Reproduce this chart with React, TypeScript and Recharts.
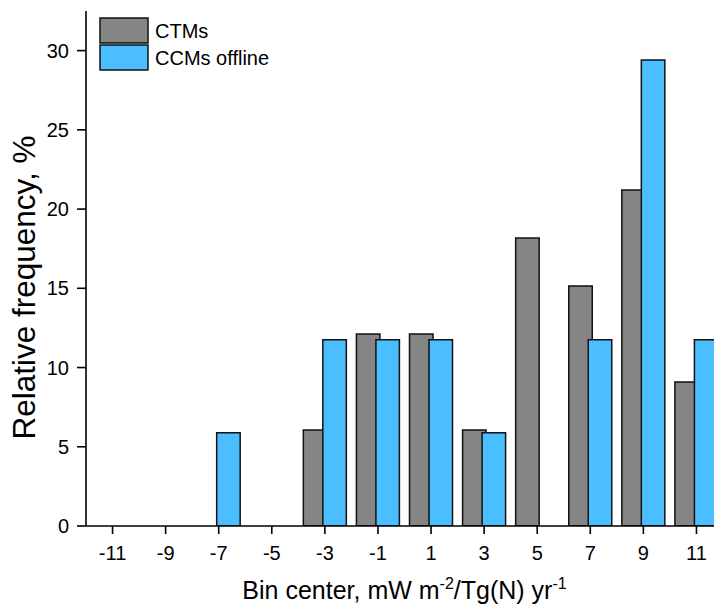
import React from 'react';
import { BarChart, Bar, XAxis, YAxis, Legend } from 'recharts';

const binCenters = [-11, -9, -7, -5, -3, -1, 1, 3, 5, 7, 9, 11];
const ctmsFreq = [0, 0, 0, 0, 6.06, 12.12, 12.12, 6.06, 18.18, 15.15, 21.21, 9.09];
const ccmsFreq = [0, 0, 5.88, 0, 11.76, 11.76, 11.76, 5.88, 0, 11.76, 29.41, 11.76];
const seriesNames = ['CTMs', 'CCMs offline'];
const yMajorTicks = [0, 5, 10, 15, 20, 25, 30];
const yMinorTicks = [2.5, 7.5, 12.5, 17.5, 22.5, 27.5, 32.5];
const xMinorTicks = [-12, -10, -8, -6, -4, -2, 0, 2, 4, 6, 8, 10, 12];
const xDomain = [-12, 12];
const yDomain = [0, 32.5];
const yLabel = 'Relative frequency, %';

const data = binCenters.map((b, i) => ({ bin: b, ctms: ctmsFreq[i], ccms: ccmsFreq[i] }));

const FONT = '"Liberation Sans", Arial, sans-serif';
const AXIS = { stroke: '#000', strokeWidth: 1.6 };

const renderLegend = (props: any) => {
  const payload = [...(props.payload || [])].sort(
    (a: any, b: any) => seriesNames.indexOf(a.value) - seriesNames.indexOf(b.value)
  );
  return (
    <svg width={260} height={56} style={{ display: 'block' }}>
      {payload.map((p: any, i: number) => (
        <g key={i}>
          <rect x={1} y={1 + i * 27} width={48} height={25} fill={p.color} stroke="#111" strokeWidth={1.5} />
          <text x={56} y={1 + i * 27 + 19.5} fontSize={20} fontFamily={FONT} fill="#000">
            {p.value}
          </text>
        </g>
      ))}
    </svg>
  );
};

const XLabel = (props: any) => {
  const vb = props.viewBox || {};
  const cx = vb.x + vb.width / 2;
  return (
    <text x={cx} y={599} textAnchor="middle" fontSize={25} fontFamily={FONT} fill="#000">
      Bin center, mW m
      <tspan dy={-10} fontSize={16}>-2</tspan>
      <tspan dy={10}>/Tg(N) yr</tspan>
      <tspan dy={-10} fontSize={16}>-1</tspan>
    </text>
  );
};

const YLabel = (props: any) => {
  const vb = props.viewBox || {};
  const cy = vb.y + vb.height / 2 + 19;
  const x = 35;
  return (
    <text x={x} y={cy} textAnchor="middle" fontSize={31.5} fontFamily={FONT} fill="#000" transform={`rotate(-90 ${x} ${cy})`}>
      {yLabel}
    </text>
  );
};

export default function App() {
  return (
    <div style={{ position: 'absolute', left: 0, top: 0, width: 714, height: 610, overflow: 'hidden', background: '#fff' }}>
      <BarChart
        width={730}
        height={610}
        data={data}
        margin={{ top: 11, right: 7, bottom: 0, left: 0 }}
        barSize={23.5}
        barGap={-4}
      >
        <XAxis
          xAxisId="minor"
          dataKey="bin"
          type="number"
          domain={xDomain}
          ticks={xMinorTicks}
          allowDataOverflow
          tick={false}
          tickSize={4}
          axisLine={false}
          tickLine={AXIS}
          height={0}
        />
        <XAxis
          xAxisId="main"
          dataKey="bin"
          type="category"
          height={84}
          tickSize={8}
          tickMargin={12}
          axisLine={AXIS}
          tickLine={AXIS}
          tick={{ fontSize: 20, fontFamily: FONT, fill: '#000' }}
          label={<XLabel />}
        />
        <YAxis
          yAxisId="minor"
          type="number"
          domain={yDomain}
          ticks={yMinorTicks}
          allowDataOverflow
          tick={false}
          tickSize={4}
          axisLine={false}
          tickLine={AXIS}
          width={0}
        />
        <YAxis
          yAxisId="main"
          type="number"
          domain={yDomain}
          ticks={yMajorTicks}
          allowDataOverflow
          width={86}
          tickSize={9}
          tickMargin={8}
          axisLine={AXIS}
          tickLine={AXIS}
          tick={{ fontSize: 20, fontFamily: FONT, fill: '#000' }}
          label={<YLabel />}
        />
        <Legend
          layout="horizontal"
          verticalAlign="middle"
          align="center"
          content={renderLegend}
          wrapperStyle={{ left: 99, top: 17, width: 260, height: 56 }}
        />
        <Bar
          xAxisId="main"
          yAxisId="main"
          dataKey="ctms"
          name={seriesNames[0]}
          fill="#858585"
          stroke="#111"
          strokeWidth={1.5}
          isAnimationActive={false}
        />
        <Bar
          xAxisId="main"
          yAxisId="main"
          dataKey="ccms"
          name={seriesNames[1]}
          fill="#4BBEFF"
          stroke="#111"
          strokeWidth={1.5}
          isAnimationActive={false}
        />
      </BarChart>
    </div>
  );
}
